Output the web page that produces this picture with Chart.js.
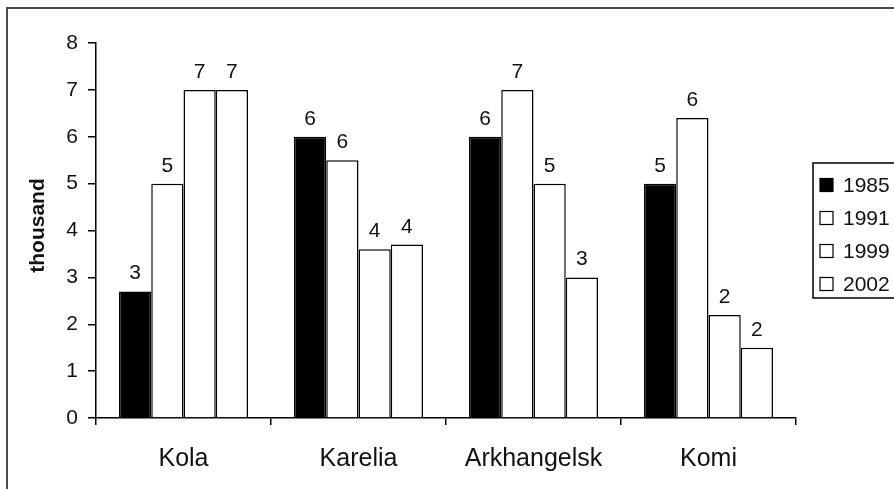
<!DOCTYPE html>
<html>
<head>
<meta charset="utf-8">
<script src="https://cdn.jsdelivr.net/npm/chart.js@4.4.1/dist/chart.umd.min.js"></script>
<style>
  html, body { margin: 0; padding: 0; background: #fff; overflow: hidden; }
  #frame {
    position: absolute; left: 6px; top: 7px;
    width: 915px; height: 495px;
    border: 2px solid #4a4a4a;
  }
  canvas { display: block; }
</style>
</head>
<body>
<div id="frame"><canvas id="chart" width="915" height="495"></canvas></div>
<script>
// Regions and survey years
const regions = ['Kola', 'Karelia', 'Arkhangelsk', 'Komi'];
const years = ['1985', '1991', '1999', '2002'];

// Values in thousands, one array per year (same order as regions)
const values1985 = [2.7, 6.0, 6.0, 5.0];
const values1991 = [5.0, 5.5, 7.0, 6.4];
const values1999 = [7.0, 3.6, 5.0, 2.2];
const values2002 = [7.0, 3.7, 3.0, 1.5];

const yTicks = [0, 1, 2, 3, 4, 5, 6, 7, 8];
const yTitle = 'thousand';

const FONT = '"Liberation Sans", Arial, sans-serif';
const INK = '#111';

const seriesValues = [values1985, values1991, values1999, values2002];
const fills = ['#000000', '#ffffff', '#ffffff', '#ffffff'];

const datasets = years.map((y, i) => ({
  label: y,
  data: seriesValues[i],
  backgroundColor: fills[i],
  borderColor: '#000',
  borderWidth: 1.5,
  borderSkipped: 'bottom',
  categoryPercentage: 0.737,
  barPercentage: 1.0
}));

// Rounded value printed above each bar
const valueLabels = {
  id: 'valueLabels',
  afterDatasetsDraw(chart) {
    const ctx = chart.ctx;
    ctx.save();
    ctx.font = '21px ' + FONT;
    ctx.fillStyle = INK;
    ctx.textAlign = 'center';
    ctx.textBaseline = 'alphabetic';
    chart.data.datasets.forEach((ds, di) => {
      chart.getDatasetMeta(di).data.forEach((bar, i) => {
        ctx.fillText(String(Math.round(ds.data[i])), bar.x, bar.y - 12);
      });
    });
    ctx.restore();
  }
};

// Rotated value-axis title, sitting a little above the axis middle
const axisTitle = {
  id: 'axisTitle',
  afterDraw(chart) {
    const ctx = chart.ctx;
    const area = chart.chartArea;
    ctx.save();
    ctx.translate(30, (area.top + area.bottom) / 2 - 5);
    ctx.rotate(-Math.PI / 2);
    ctx.font = 'bold 21px ' + FONT;
    ctx.fillStyle = INK;
    ctx.textAlign = 'center';
    ctx.textBaseline = 'middle';
    ctx.fillText(yTitle, 0, 0);
    ctx.restore();
  }
};

// Boxed legend on the right
const boxLegend = {
  id: 'boxLegend',
  afterDraw(chart) {
    const ctx = chart.ctx;
    const left = 805, top = 154, bottom = 289;
    ctx.save();
    ctx.strokeStyle = '#000';
    ctx.lineWidth = 1.5;
    ctx.strokeRect(left, top, 200, bottom - top);
    ctx.font = '21px ' + FONT;
    ctx.textBaseline = 'middle';
    ctx.textAlign = 'left';
    chart.data.datasets.forEach((ds, i) => {
      const cy = 176 + i * 33;
      ctx.fillStyle = ds.backgroundColor;
      ctx.fillRect(812, cy - 6.5, 13, 13);
      ctx.lineWidth = 1.2;
      ctx.strokeStyle = '#000';
      ctx.strokeRect(812, cy - 6.5, 13, 13);
      ctx.fillStyle = INK;
      ctx.fillText(ds.label, 835, cy + 1);
    });
    ctx.restore();
  }
};

new Chart(document.getElementById('chart'), {
  type: 'bar',
  data: { labels: regions, datasets },
  plugins: [valueLabels, axisTitle, boxLegend],
  options: {
    responsive: false,
    animation: false,
    layout: { padding: { left: 0, right: 127, top: 34, bottom: 0 } },
    plugins: {
      legend: { display: false },
      tooltip: { enabled: false }
    },
    scales: {
      x: {
        offset: true,
        grid: {
          display: true, drawOnChartArea: false, drawTicks: true,
          tickLength: 7, color: '#000', lineWidth: 1.5, offset: true
        },
        border: { display: true, color: '#000', width: 1.5 },
        ticks: { color: INK, font: { family: FONT, size: 25 }, padding: 19, maxRotation: 0 },
        afterFit(scale) { scale.height = 86; }
      },
      y: {
        min: 0, max: 8,
        afterBuildTicks(scale) { scale.ticks = yTicks.map(v => ({ value: v })); },
        grid: {
          display: true, drawOnChartArea: false, drawTicks: true,
          tickLength: 8, color: '#000', lineWidth: 1.5
        },
        border: { display: true, color: '#000', width: 1.5 },
        ticks: { color: INK, font: { family: FONT, size: 21 }, padding: 10 },
        afterFit(scale) { scale.width = 88; }
      }
    }
  }
});
</script>
</body>
</html>
